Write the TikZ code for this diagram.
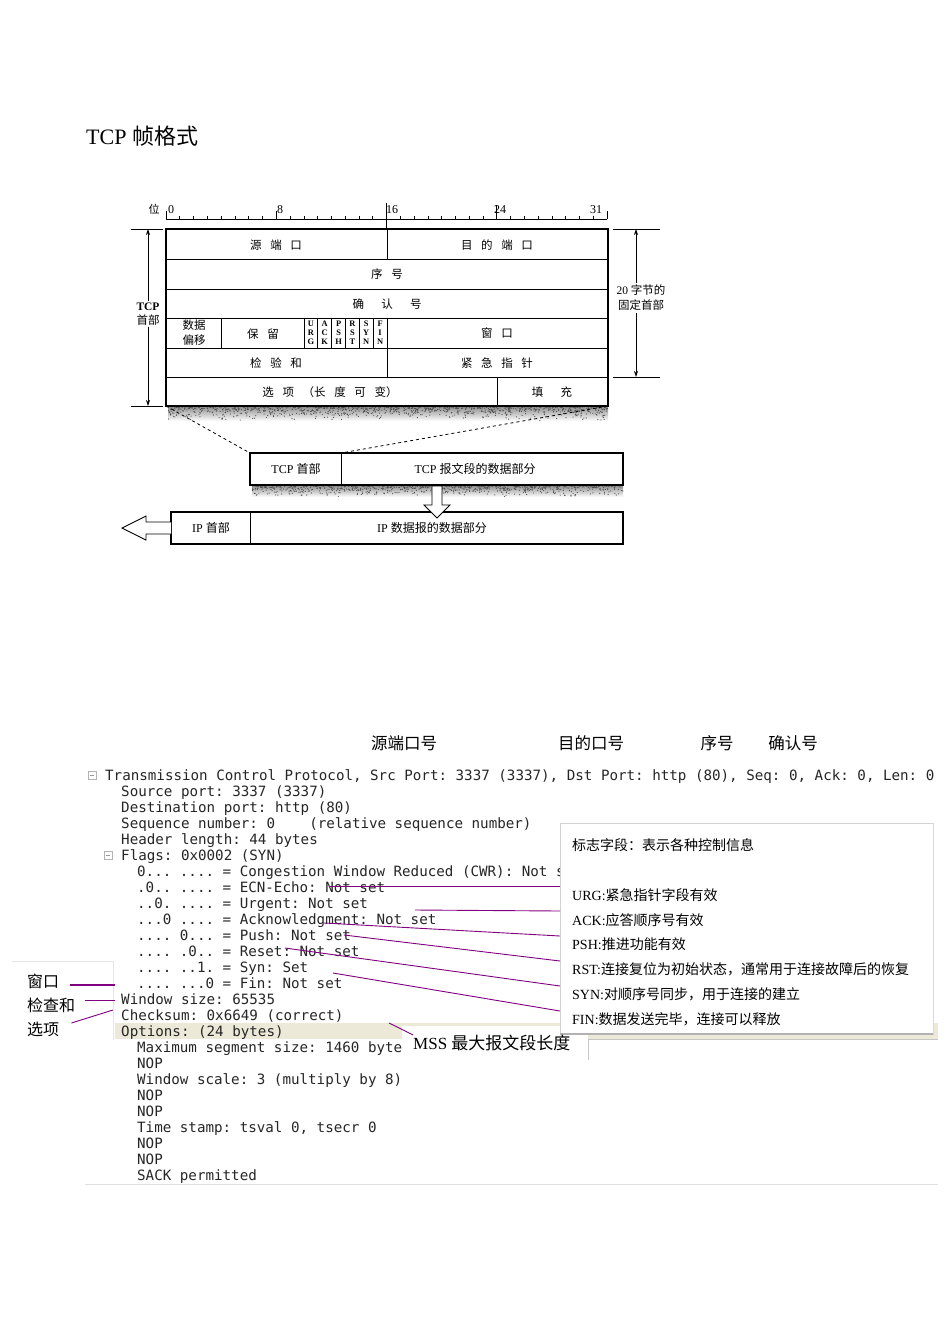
\documentclass[tikz,border=0pt]{standalone}
\usepackage{fontspec}
\usetikzlibrary{arrows.meta}
\setmainfont{Liberation Serif}
\newfontfamily\cjk{Noto Sans CJK SC}
\newfontfamily\monof{DejaVu Sans Mono}
\newcommand\zhs[1]{{\cjk #1}}
\newcommand\kgp{\hspace{0.75em}}
\definecolor{purp}{RGB}{128,0,128}
\definecolor{beigeband}{RGB}{236,233,216}
\tikzset{
  outer/.style={line width=1.6},
  inner/.style={line width=0.9},
  cell/.style={font=\cjk\fontsize{11.5}{13}\selectfont, inner sep=0},
  ruler/.style={font=\fontsize{12}{13}\selectfont, inner sep=0},
  flagtxt/.style={font=\bfseries\fontsize{8.4}{8.9}\selectfont, align=center, inner sep=0},
  mono/.style={font=\monof\fontsize{14.2}{16}\selectfont\frenchspacing, anchor=base west, inner sep=0, text=black!85},
  conn/.style={draw=purp, line width=0.9},
  arr/.style={line width=0.8, -{Stealth[length=6pt,width=4pt]}},
  hollow/.style={draw, line width=0.9, fill=white},
  callouttxt/.style={font=\fontsize{14}{16}\selectfont, anchor=west, inner sep=0},
  bigzh/.style={font=\cjk\fontsize{16.5}{18}\selectfont, inner sep=0},
}
\begin{document}
\begin{tikzpicture}[x=1pt,y=-1pt]
\useasboundingbox (0,0) rectangle (950,1344);
\fill[white] (0,0) rectangle (950,1344);

% ---------- title ----------
\node[anchor=west, inner sep=0, font=\fontsize{22}{24}\selectfont] (title) at (86,136) {TCP \zhs{帧格式}};

% ---------- ruler ----------
\draw[line width=0.8] (166,219) -- (607,219);
\foreach \i in {0,...,32} \draw[line width=0.6] ({166+\i*13.78},219) -- ++(0,-3.5);
\draw[line width=0.8] (166,219) -- (166,211);
\draw[line width=0.8] (276.2,219) -- (276.2,211);
\draw[line width=0.8] (386.5,203) -- (386.5,229);
\draw[line width=0.8] (496.8,205) -- (496.8,219);
\draw[line width=0.8] (607,219) -- (607,211);
\node[cell, font=\cjk\fontsize{11}{12}\selectfont] (wei) at (154,209) {位};
\node[ruler] (n0) at (171,210) {0};
\node[ruler] (n8) at (280,210) {8};
\node[ruler] (n16) at (392,210) {16};
\node[ruler] (n24) at (500,210) {24};
\node[ruler] (n31) at (596,210) {31};

% ---------- shadow under main box ----------
\shade[top color=black!45, bottom color=white] (168,406) rectangle (608,421);
\pgfmathsetseed{11}
\foreach \k in {1,...,1300}{
  \pgfmathsetmacro\rx{168+440*rnd}
  \pgfmathsetmacro\ry{406+15*rnd*rnd}
  \fill[black!70] (\rx,\ry) circle (0.6);
}

% ---------- main TCP header box ----------
\coordinate (bTL) at (166,229);
\coordinate (bTR) at (608,229);
\coordinate (bBL) at (166,406);
\coordinate (bBR) at (608,406);
\fill[white] (bTL) rectangle (bBR);
\draw[inner] (166,259) -- (608,259);
\draw[inner] (166,289) -- (608,289);
\draw[inner] (166,318) -- (608,318);
\draw[inner] (166,348) -- (608,348);
\draw[inner] (166,377) -- (608,377);
\draw[inner] (387,229) -- (387,259);
\draw[inner] (387,318) -- (387,377);
\draw[inner] (221,318) -- (221,348);
\draw[inner] (304,318) -- (304,348);
\foreach \i in {1,...,5} \draw[inner] ({304+\i*13.83},318) -- ({304+\i*13.83},348);
\draw[inner] (497,377) -- (497,406);
\draw[outer] (bTL) rectangle (bBR);

\node[cell] (srcp) at (276,245) {源\kgp 端\kgp 口};
\node[cell] (dstp) at (497,245) {目\kgp 的\kgp 端\kgp 口};
\node[cell] (seqn) at (387,274) {序\kgp 号};
\node[cell] (ackn) at (387,304) {确\kgp\kgp 认\kgp\kgp 号};
\node[cell, align=center, font=\cjk\fontsize{11.5}{15}\selectfont] (doff) at (194,333) {数据\\偏移};
\node[cell] (resv) at (263,334) {保\kgp 留};
\node[flagtxt] (fURG) at (310.9,333) {U\\R\\G};
\node[flagtxt] (fACK) at (324.7,333) {A\\C\\K};
\node[flagtxt] (fPSH) at (338.6,333) {P\\S\\H};
\node[flagtxt] (fRST) at (352.4,333) {R\\S\\T};
\node[flagtxt] (fSYN) at (366.2,333) {S\\Y\\N};
\node[flagtxt] (fFIN) at (380.1,333) {F\\I\\N};
\node[cell] (wind) at (497,333) {窗\kgp 口};
\node[cell] (csum) at (276,363) {检\kgp 验\kgp 和};
\node[cell] (urgp) at (497,363) {紧\kgp 急\kgp 指\kgp 针};
\node[cell] (opts) at (330,392) {选\kgp 项\kgp （长\kgp 度\kgp 可\kgp 变）};
\node[cell] (padd) at (552,392) {填\kgp\kgp 充};

% ---------- left bracket ----------
\coordinate (lt) at (148,229);
\coordinate (lb) at (148,406);
\draw[line width=0.8] (131,229) -- (163,229);
\draw[line width=0.8] (131,406) -- (163,406);
\node[align=center, inner sep=1.5, font=\bfseries\fontsize{11.5}{13.5}\selectfont] (tcph) at (148,314) {TCP\\\zhs{\mdseries 首部}};
\draw[arr] (tcph.north) -- (lt);
\draw[arr] (tcph.south) -- (lb);

% ---------- right bracket ----------
\coordinate (rt) at (636,229);
\coordinate (rb) at (636,377);
\draw[line width=0.8] (613,229) -- (660,229);
\draw[line width=0.8] (613,377) -- (660,377);
\node[align=center, inner sep=1.5, font=\fontsize{11.5}{15}\selectfont] (fixh) at (641,298) {20 \zhs{字节的}\\\zhs{固定首部}};
\draw[arr] (fixh.north -| rt) -- (rt);
\draw[arr] (fixh.south -| rb) -- (rb);

% ---------- middle box ----------
\coordinate (mTL) at (250,453);
\coordinate (mDiv) at (341,453);
\shade[top color=black!45, bottom color=white] (252,485) rectangle (623,497);
\pgfmathsetseed{5}
\foreach \k in {1,...,1000}{
  \pgfmathsetmacro\rx{252+371*rnd}
  \pgfmathsetmacro\ry{485+12*rnd*rnd}
  \fill[black!70] (\rx,\ry) circle (0.6);
}
\draw[dashed, line width=0.8] (bBL) -- (mTL);
\draw[dashed, line width=0.8] (bBR) -- (mDiv);
\draw[outer, fill=white] (250,453) rectangle (623,485);
\draw[inner] (341,453) -- (341,485);
\node[cell, font=\fontsize{12}{13}\selectfont] (mh) at (296,469) {TCP \zhs{首部}};
\node[cell, font=\fontsize{12}{13}\selectfont] (md) at (475,469) {TCP \zhs{报文段的数据部分}};

% ---------- bottom box ----------
\draw[outer, fill=white] (171,512) rectangle (623,544);
\draw[inner] (250,512) -- (250,544);
\node[cell, font=\fontsize{12}{13}\selectfont] (ih) at (211,528) {IP \zhs{首部}};
\node[cell, font=\fontsize{12}{13}\selectfont] (id) at (432,528) {IP \zhs{数据报的数据部分}};

% hollow arrows
\draw[hollow] (432,486) -- (442,486) -- (442,505) -- (450,505) -- (437,518) -- (424,505) -- (432,505) -- cycle;
\draw[hollow] (171,522) -- (146,522) -- (146,516) -- (122,528) -- (146,540) -- (146,534) -- (171,534);

% ---------- lower section: headings ----------
\node[bigzh] (hsrc) at (404,743) {源端口号};
\node[bigzh] (hdst) at (591,743) {目的口号};
\node[bigzh] (hseq) at (717,743) {序号};
\node[bigzh] (hack) at (793,743) {确认号};

% options highlight band
\fill[beigeband] (115,1023) rectangle (938,1039);

% toggles
\draw[gray!60, fill=white] (88,771) rectangle (96,779);
\draw[gray!80] (90,775) -- (94,775);
\draw[gray!60, fill=white] (104,851) rectangle (112,859);
\draw[gray!80] (106,855) -- (110,855);

% wireshark tree
\node[mono] (w0) at (105,780) {Transmission Control Protocol, Src Port: 3337 (3337), Dst Port: http (80), Seq: 0, Ack: 0, Len: 0};
\node[mono] (w1) at (121,796) {Source port: 3337 (3337)};
\node[mono] (w2) at (121,812) {Destination port: http (80)};
\node[mono] (w3) at (121,828) {Sequence number: 0\ \ \ \ (relative sequence number)};
\node[mono] (w4) at (121,844) {Header length: 44 bytes};
\node[mono] (w5) at (121,860) {Flags: 0x0002 (SYN)};
\node[mono] (w6) at (137,876) {0... .... = Congestion Window Reduced (CWR): Not s};
\node[mono] (w7) at (137,892) {.0.. .... = ECN-Echo: Not set};
\node[mono] (w8) at (137,908) {..0. .... = Urgent: Not set};
\node[mono] (w9) at (137,924) {...0 .... = Acknowledgment: Not set};
\node[mono] (w10) at (137,940) {.... 0... = Push: Not set};
\node[mono] (w11) at (137,956) {.... .0.. = Reset: Not set};
\node[mono] (w12) at (137,972) {.... ..1. = Syn: Set};
\node[mono] (w13) at (137,988) {.... ...0 = Fin: Not set};
\node[mono] (w14) at (121,1004) {Window size: 65535};
\node[mono] (w15) at (121,1020) {Checksum: 0x6649 (correct)};
\node[mono] (w16) at (121,1036) {Options: (24 bytes)};
\node[mono] (w17) at (137,1052) {Maximum segment size: 1460 byte};
\node[mono] (w18) at (137,1068) {NOP};
\node[mono] (w19) at (137,1084) {Window scale: 3 (multiply by 8)};
\node[mono] (w20) at (137,1100) {NOP};
\node[mono] (w21) at (137,1116) {NOP};
\node[mono] (w22) at (137,1132) {Time stamp: tsval 0, tsecr 0};
\node[mono] (w23) at (137,1148) {NOP};
\node[mono] (w24) at (137,1164) {NOP};
\node[mono] (w25) at (137,1180) {SACK permitted};
\draw[gray!25, line width=1] (85,1184) -- (938,1184);

% ---------- callout box ----------
\draw[gray!35, fill=white] (560,823) rectangle (933,1034);
\draw[gray!60, line width=1.2] (560,1034) -- (933,1034);
\draw[gray!30, line width=1] (933,823) -- (933,1034);
\node[callouttxt] (c0) at (572,845) {\zhs{标志字段：表示各种控制信息}};
\node[callouttxt] (c1) at (572,895) {URG:\zhs{紧急指针字段有效}};
\node[callouttxt] (c2) at (572,920) {ACK:\zhs{应答顺序号有效}};
\node[callouttxt] (c3) at (572,944) {PSH:\zhs{推进功能有效}};
\node[callouttxt] (c4) at (572,969) {RST:\zhs{连接复位为初始状态，通常用于连接故障后的恢复}};
\node[callouttxt] (c5) at (572,994) {SYN:\zhs{对顺序号同步，用于连接的建立}};
\node[callouttxt] (c6) at (572,1019) {FIN:\zhs{数据发送完毕，连接可以释放}};

% ---------- MSS label ----------
\fill[white] (402,1026) rectangle (560,1062);
\fill[white] (560,1035) rectangle (588,1062);
\draw[gray!45, line width=0.8] (588,1039) -- (938,1039);
\draw[gray!45, line width=0.8] (588,1039) -- (588,1060);
\node[anchor=west, inner sep=0, font=\fontsize{17}{19}\selectfont] (mss) at (413,1043) {MSS \zhs{最大报文段长度}};

% ---------- left labels ----------
\draw[gray!20, line width=0.8] (12,961) -- (113,961) -- (113,1040);
\node[bigzh, anchor=west, font=\cjk\fontsize{16}{18}\selectfont] (lwin) at (27,981) {窗口};
\node[bigzh, anchor=west, font=\cjk\fontsize{16}{18}\selectfont] (lchk) at (27,1005) {检查和};
\node[bigzh, anchor=west, font=\cjk\fontsize{16}{18}\selectfont] (lopt) at (27,1029) {选项};

% ---------- connectors ----------
\coordinate (sWin) at (115,985);
\coordinate (sChk) at (115,1000);
\coordinate (sOpt) at (113,1010);
\draw[conn, line width=2] (lwin.east) ++(11,4) -- (sWin);
\draw[conn] (lchk.east) ++(10,-5) -- (sChk);
\draw[conn] (lopt.east) ++(12,-6) -- (sOpt);

\coordinate (eECN) at (560,886);
\coordinate (eURG) at (560,911);
\coordinate (eACK) at (560,936);
\coordinate (ePSH) at (560,961);
\coordinate (eRST) at (560,986);
\coordinate (eSYN) at (560,1011);
\coordinate (sECN) at (330,886);
\coordinate (sURG) at (415,910);
\coordinate (sACK) at (324,923);
\coordinate (sPSH) at (344,935);
\coordinate (sRST) at (285,948);
\coordinate (sSYN) at (333,973);
\draw[conn] (sECN) -- (eECN);
\draw[conn] (sURG) -- (eURG);
\draw[conn] (sACK) -- (eACK);
\draw[conn] (sPSH) -- (ePSH);
\draw[conn] (sRST) -- (eRST);
\draw[conn] (sSYN) -- (eSYN);
\coordinate (sMSS) at (389,1023);
\draw[conn] (sMSS) -- (mss.north west);
\end{tikzpicture}
\end{document}
